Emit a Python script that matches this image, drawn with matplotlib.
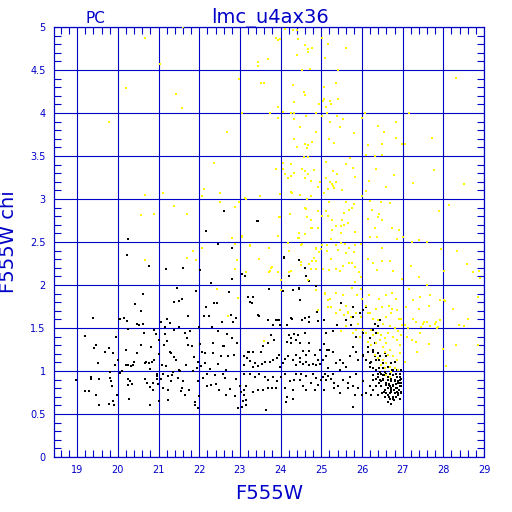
import numpy as np
import matplotlib
matplotlib.use("Agg")
import matplotlib.pyplot as plt
from matplotlib.ticker import MultipleLocator

# ─── DATA ────────────────────────────────────────────────────────────────────
TITLE = "lmc_u4ax36"
CAMERA = "PC"
X_LABEL = "F555W"
Y_LABEL = "F555W chi"
X_TICKS = [19, 20, 21, 22, 23, 24, 25, 26, 27, 28, 29]
Y_TICKS = [0, 0.5, 1, 1.5, 2, 2.5, 3, 3.5, 4, 4.5, 5]
Y_TICK_LABELS = ["0", "0.5", "1", "1.5", "2", "2.5", "3", "3.5", "4", "4.5", "5"]

# black stars: (F555W, chi)
black_pts = np.array([
    (18.97, 0.89), (19.2, 0.77), (19.3, 0.77), (19.18, 1.41), (19.38, 1.62), (19.42, 1.27),
    (19.47, 1.30), (19.5, 1.09), (19.35, 0.93), (19.35, 0.91), (19.46, 0.72), (19.54, 0.91),
    (19.54, 0.6), (19.68, 1.22), (19.78, 1.27), (19.8, 0.99), (19.8, 0.92), (19.82, 0.88),
    (19.85, 0.82), (19.79, 0.62), (19.88, 1.21), (19.88, 0.65), (19.9, 0.6), (19.92, 1.07),
    (19.95, 1.39), (19.97, 0.72), (20.0, 1.13), (20.02, 1.60), (20.06, 1.6), (20.06, 0.98),
    (20.1, 1.0), (20.15, 1.62), (20.19, 1.24), (20.21, 1.07), (20.22, 1.58), (20.24, 0.91),
    (20.24, 0.84), (20.25, 1.49), (20.26, 1.07), (20.28, 0.68), (20.29, 0.88), (20.32, 1.06),
    (20.34, 0.85), (20.37, 1.07), (20.39, 1.11), (20.42, 1.78), (20.48, 1.55), (20.47, 1.21),
    (20.53, 1.54), (20.57, 1.70), (20.58, 1.30), (20.61, 1.90), (20.62, 1.55), (20.65, 1.44),
    (20.67, 1.09), (20.67, 0.91), (20.69, 1.10), (20.72, 0.86), (20.76, 1.09), (20.77, 2.22),
    (20.79, 0.81), (20.79, 0.60), (20.8, 1.02), (20.82, 1.28), (20.85, 1.11), (20.86, 0.86),
    (20.87, 0.78), (20.9, 1.13), (20.9, 1.48), (20.93, 1.43), (20.96, 0.96), (20.96, 0.94),
    (20.96, 0.91), (20.98, 0.85), (21.0, 1.36), (21.02, 1.2), (21.02, 0.65), (21.05, 0.91),
    (21.06, 1.57), (21.09, 1.07), (21.1, 0.96), (21.11, 0.8), (21.14, 1.3), (21.15, 1.43),
    (21.15, 1.51), (21.18, 2.19), (21.18, 1.06), (21.2, 1.35), (21.2, 1.6), (21.22, 0.94),
    (21.22, 0.66), (21.24, 0.78), (21.27, 1.56), (21.28, 1.22), (21.3, 0.88), (21.31, 1.21),
    (21.33, 0.95), (21.36, 0.99), (21.37, 1.16), (21.39, 1.48), (21.39, 1.8), (21.43, 1.13),
    (21.46, 1.96), (21.48, 0.92), (21.5, 1.81), (21.51, 1.51), (21.51, 1.01), (21.52, 1.0),
    (21.55, 0.77), (21.57, 1.84), (21.58, 0.80), (21.6, 2.2), (21.61, 0.88), (21.64, 1.44),
    (21.66, 0.72), (21.68, 1.07), (21.7, 1.38), (21.72, 1.64), (21.72, 1.3), (21.76, 0.78),
    (21.77, 1.47), (21.81, 1.29), (21.84, 1.0), (21.87, 1.16), (21.89, 0.61), (21.9, 0.64),
    (21.92, 1.93), (21.94, 1.04), (21.96, 0.57), (21.97, 1.1), (21.98, 0.88), (21.99, 1.51),
    (21.99, 0.71), (22.02, 1.31), (22.03, 2.18), (22.05, 1.06), (22.07, 1.22), (22.09, 0.92),
    (22.11, 1.64), (22.13, 1.21), (22.15, 1.09), (22.17, 1.75), (22.19, 0.82), (22.2, 0.97),
    (22.23, 1.64), (22.27, 1.02), (22.28, 2.02), (22.3, 0.84), (22.32, 1.51), (22.33, 1.32),
    (22.35, 1.21), (22.37, 1.79), (22.39, 0.95), (22.41, 0.85), (22.43, 1.79), (22.45, 1.46),
    (22.47, 1.08), (22.49, 0.78), (22.53, 1.17), (22.55, 1.57), (22.58, 1.29), (22.59, 0.97),
    (22.62, 1.29), (22.64, 0.92), (22.66, 1.01), (22.67, 0.72), (22.69, 1.43), (22.71, 1.17),
    (22.73, 1.92), (22.75, 0.79), (22.77, 1.65), (22.8, 1.38), (22.81, 2.07), (22.82, 1.57),
    (22.85, 1.19), (22.88, 0.71), (22.9, 0.91), (22.91, 1.62), (22.93, 1.33), (22.96, 0.57),
    (23.0, 0.82), (23.03, 0.76), (23.05, 2.13), (23.07, 0.65), (23.1, 1.07), (23.14, 0.61),
    (23.17, 1.15), (23.21, 1.86), (23.23, 1.22), (23.24, 1.8),
    (22.61, 2.86), (22.16, 2.63), (20.24, 2.53), (22.46, 2.48), (22.8, 2.43), (20.23, 2.35),
    (23.45, 2.74), (23.43, 2.74), (24.09, 2.31), (24.46, 2.29), (24.6, 2.2), (23.12, 2.11),
    (24.21, 2.1), (24.63, 2.1), (24.86, 1.99), (24.45, 1.96), (23.72, 1.95), (23.71, 1.95),
    (24.45, 1.95), (24.7, 2.05), (24.08, 2.32), (24.61, 1.62), (24.53, 1.59), (24.27, 1.6),
    (24.16, 1.53), (23.92, 1.59), (23.47, 1.64), (25.39, 1.53), (25.29, 1.47),
    (23.32, 1.86), (23.3, 1.79), (23.45, 1.65), (23.68, 1.59), (23.81, 1.53), (23.88, 1.59),
    (23.97, 1.59), (23.99, 1.53), (24.06, 1.93), (24.16, 1.54), (24.26, 1.62), (24.3, 1.94),
    (24.48, 1.83), (24.7, 1.57), (24.7, 1.63), (24.89, 1.69), (24.92, 1.58),
    (23.77, 1.42), (23.68, 1.32), (23.83, 1.36), (23.57, 1.29), (23.53, 1.22), (23.32, 1.22),
    (23.2, 1.22), (23.11, 1.17), (23.24, 1.12), (23.36, 1.09), (23.45, 1.06), (23.32, 1.05),
    (23.55, 1.08), (23.62, 1.1), (23.73, 1.11), (23.81, 1.13), (23.91, 1.15), (23.96, 1.19),
    (23.99, 1.05), (24.06, 1.09), (24.11, 1.14), (24.17, 1.18), (24.2, 1.42), (24.26, 1.38),
    (24.33, 1.43), (24.39, 1.36), (24.43, 1.42), (24.26, 1.32), (24.15, 1.34), (24.47, 1.32),
    (24.61, 1.44), (24.71, 1.32), (24.71, 1.23), (24.84, 1.19), (24.92, 1.13), (24.96, 1.25),
    (25.06, 1.31), (25.12, 1.44), (25.14, 1.25), (24.3, 1.13), (24.39, 1.07), (24.47, 1.11),
    (24.55, 1.08), (24.63, 1.11), (24.71, 1.07), (24.8, 1.08), (24.88, 1.07), (24.96, 1.08),
    (25.04, 1.13), (24.47, 1.15), (24.39, 1.19), (24.63, 1.19), (24.55, 1.23),
    (23.11, 0.96), (23.24, 0.97), (23.36, 0.93), (23.48, 0.96), (23.61, 0.93), (23.7, 0.9),
    (23.81, 0.93), (23.91, 0.88), (24.02, 0.93), (23.69, 0.8), (23.8, 0.8), (23.89, 0.8),
    (23.57, 0.78), (23.44, 0.78), (23.32, 0.76), (23.16, 0.82), (23.11, 0.78), (23.1, 0.72),
    (23.16, 0.66), (23.06, 0.58), (23.65, 0.55), (24.1, 0.8), (24.16, 0.7), (24.3, 0.68),
    (24.3, 0.78), (24.22, 0.88), (24.34, 0.9), (24.47, 0.9), (24.55, 0.82), (24.63, 0.78),
    (24.75, 0.86), (24.84, 0.78), (24.92, 0.84), (25.0, 0.9), (25.07, 0.78), (25.08, 0.96),
    (25.16, 0.94), (24.12, 0.96), (24.39, 0.96), (24.51, 0.96), (24.63, 0.94), (24.8, 0.96),
    (24.88, 0.92), (24.13, 0.64),
    (26.35, 1.01), (26.44, 0.99), (26.52, 0.95), (26.6, 0.97), (26.68, 0.93), (26.77, 0.95),
    (26.85, 0.93), (26.93, 0.97), (26.97, 0.91), (26.64, 0.9), (26.72, 0.88), (26.81, 0.9),
    (26.89, 0.86), (26.6, 0.84), (26.68, 0.82), (26.77, 0.84), (26.85, 0.8), (26.93, 0.82),
    (26.56, 0.78), (26.72, 0.78), (26.81, 0.74), (26.64, 0.72), (26.89, 0.74), (26.68, 0.68),
    (26.78, 0.66), (26.56, 0.7), (26.48, 0.88), (26.4, 0.93), (26.27, 0.9), (26.19, 0.82),
    (26.5, 0.74), (26.93, 0.9), (26.97, 1.01), (26.86, 1.01), (26.74, 1.01), (26.52, 1.03),
    (25.78, 0.58), (26.48, 0.82), (26.52, 0.91), (26.58, 0.86), (26.67, 0.85), (26.83, 0.85),
    (26.91, 0.78), (26.97, 0.74), (26.6, 0.74), (26.69, 0.74), (26.83, 0.7), (26.77, 0.7),
    (26.64, 0.64), (26.72, 0.62), (26.93, 0.68), (26.97, 0.86), (26.44, 0.9), (26.35, 0.82),
    (26.27, 0.78), (26.23, 0.72), (26.4, 0.72), (26.93, 0.93), (26.83, 0.97), (26.7, 0.97),
    (26.56, 0.99), (26.48, 0.97),
    (26.43, 1.03), (26.39, 0.97), (26.55, 0.95), (26.63, 0.93), (26.72, 0.91), (26.8, 0.88),
    (26.88, 0.88), (26.92, 0.86), (26.51, 0.9), (26.59, 0.86), (26.67, 0.84), (26.76, 0.82),
    (26.84, 0.8), (26.63, 0.8), (26.72, 0.76), (26.8, 0.74), (26.55, 0.76), (26.66, 0.7),
    (26.76, 0.68), (26.88, 0.72), (26.43, 0.86), (26.35, 0.91), (26.27, 0.95), (26.47, 0.82),
    (26.19, 1.05), (26.23, 1.11), (26.31, 1.17), (26.39, 1.21), (26.02, 1.19), (26.15, 1.22),
    (26.27, 1.24), (26.43, 1.13), (26.51, 1.09), (26.63, 1.05), (26.76, 1.01), (26.84, 0.97),
    (26.93, 0.93), (26.96, 0.82), (26.96, 0.76), (26.71, 0.8), (26.79, 0.78), (26.87, 0.76),
    (26.27, 1.03), (26.19, 1.09), (26.11, 1.13), (26.35, 1.13), (26.44, 1.17), (26.56, 1.21),
    (26.27, 1.22), (26.15, 1.28), (26.31, 1.32), (26.19, 1.38), (26.35, 1.44), (26.27, 1.48),
    (26.4, 1.52), (26.31, 1.55), (26.44, 1.59), (26.6, 1.17), (26.72, 1.09), (26.81, 1.11),
    (26.02, 1.17), (25.9, 1.13), (25.86, 1.22), (25.78, 1.28), (25.7, 1.17), (25.61, 1.05),
    (25.53, 1.09), (25.45, 1.13), (25.37, 1.09), (25.28, 1.22), (25.2, 1.24), (25.12, 1.17),
    (25.04, 0.93), (25.12, 0.9), (25.24, 0.91), (25.32, 0.86), (25.41, 0.82), (25.53, 0.9),
    (25.65, 0.86), (25.78, 0.82), (25.9, 0.8), (26.02, 0.88), (26.11, 0.74), (26.0, 0.72),
    (25.82, 0.72), (25.65, 0.8), (25.45, 0.74), (25.32, 0.8), (25.7, 0.93), (25.86, 0.97),
    (25.45, 1.01), (25.28, 0.97), (25.16, 1.03), (25.74, 1.53), (25.61, 1.59), (25.78, 1.63),
    (25.94, 1.67), (26.02, 1.71), (26.15, 1.34), (25.86, 1.4), (26.02, 1.44), (25.78, 1.75),
    (26.11, 1.75), (25.49, 1.79), (25.06, 1.59),
])

# yellow stars: (F555W, chi)
yellow_pts = np.array([
    (21.59, 5.0), (20.66, 4.87), (21.03, 4.57), (20.21, 4.29), (21.43, 4.22), (21.57, 4.06),
    (19.77, 3.9), (22.97, 4.4), (23.06, 4.0), (22.69, 3.78), (22.36, 3.42), (20.66, 3.05),
    (21.1, 3.07), (22.11, 3.12), (22.07, 3.03), (22.52, 3.07), (22.5, 2.97), (23.15, 3.0),
    (22.97, 2.96), (22.87, 2.91), (20.56, 2.81), (20.9, 2.83), (21.37, 2.92), (21.69, 2.83),
    (22.8, 2.55), (23.05, 2.56), (22.87, 2.48), (23.26, 2.45), (21.84, 2.4), (22.08, 2.43),
    (20.66, 2.29), (21.7, 2.31), (21.92, 2.29), (22.93, 2.29), (22.88, 2.19), (23.14, 2.15),
    (22.43, 1.95), (22.96, 1.85), (22.7, 1.64),
    (23.88, 4.87), (23.93, 4.85), (23.98, 4.86), (24.11, 4.98), (24.3, 4.97), (24.41, 4.97),
    (24.42, 4.86), (24.59, 4.79), (24.68, 4.75), (24.78, 4.76), (24.68, 4.71), (24.41, 4.67),
    (23.68, 4.63), (23.45, 4.59), (23.45, 4.55), (25.02, 4.87), (25.16, 4.8), (25.08, 4.64),
    (25.6, 4.76), (24.52, 4.5), (24.72, 4.51), (25.42, 4.5), (23.53, 4.35), (23.59, 4.35),
    (25.35, 4.35), (28.32, 4.41), (24.31, 4.33), (24.58, 4.24), (24.61, 4.21), (25.07, 4.3),
    (24.34, 4.13), (25.07, 4.16), (25.05, 4.14), (24.94, 4.1), (25.21, 4.14), (25.4, 4.16),
    (25.12, 4.07), (25.23, 4.1), (23.93, 4.07), (24.06, 4.01), (24.26, 4.0), (24.32, 4.0),
    (23.75, 4.0), (23.93, 3.94), (24.32, 3.93), (24.63, 3.97), (24.87, 4.0), (25.02, 3.96),
    (25.14, 4.0), (25.39, 3.97), (25.53, 3.93), (26.0, 3.94), (26.07, 4.0), (27.16, 4.0),
    (24.48, 3.84), (24.88, 3.78), (25.22, 3.9), (25.47, 3.84), (25.8, 3.77), (26.4, 3.85),
    (26.55, 3.78), (26.83, 3.89), (26.83, 3.71), (27.73, 3.71), (24.32, 3.7), (24.4, 3.61),
    (24.61, 3.64), (24.68, 3.63), (24.66, 3.59), (24.78, 3.66), (25.2, 3.7), (25.31, 3.65),
    (26.14, 3.63), (26.5, 3.64), (26.98, 3.64), (27.07, 3.64), (24.57, 3.49), (24.67, 3.49),
    (25.71, 3.48), (26.11, 3.51), (26.31, 3.5), (26.5, 3.51), (24.06, 3.42), (24.26, 3.41),
    (24.52, 3.35), (24.61, 3.32), (24.82, 3.34), (25.11, 3.43), (25.6, 3.41), (25.3, 3.33),
    (25.38, 3.29), (25.77, 3.36), (26.34, 3.35), (26.78, 3.28), (27.77, 3.34), (23.88, 3.35),
    (24.06, 3.35), (24.1, 3.29), (24.18, 3.24), (24.25, 3.27), (24.34, 3.3), (24.6, 3.24),
    (24.68, 3.29), (24.75, 3.21), (24.98, 3.2), (25.11, 3.24), (25.21, 3.2), (25.27, 3.18),
    (25.35, 3.2), (25.84, 3.26), (26.18, 3.21), (26.6, 3.14), (27.26, 3.19), (28.5, 3.17),
    (24.93, 3.14), (25.16, 3.12), (25.31, 3.13), (25.3, 3.15), (25.5, 3.1), (24.25, 3.08),
    (24.27, 3.07), (24.48, 3.05), (24.75, 3.03), (25.07, 3.07), (26.09, 3.09), (26.01, 3.03),
    (23.5, 3.03), (23.99, 3.06), (24.66, 3.0), (25.2, 2.97), (25.6, 2.97), (26.19, 2.98),
    (26.46, 2.97), (26.68, 2.95), (28.14, 2.93), (24.61, 2.9), (24.91, 2.86), (25.11, 2.86),
    (25.57, 2.84), (25.8, 2.94), (25.75, 2.9), (25.68, 2.87), (26.24, 2.87), (26.43, 2.83),
    (27.9, 2.86), (24.24, 2.82), (23.98, 2.79), (24.64, 2.79), (24.75, 2.76), (25.02, 2.8),
    (25.17, 2.8), (25.27, 2.76), (25.52, 2.76), (25.65, 2.72), (26.14, 2.77), (26.39, 2.79),
    (26.5, 2.76), (24.78, 2.66), (24.91, 2.66), (25.27, 2.64), (25.37, 2.69), (25.48, 2.69),
    (25.57, 2.7), (25.84, 2.62), (26.32, 2.66), (26.75, 2.66), (26.91, 2.64), (24.61, 2.59),
    (23.94, 2.57), (24.45, 2.55), (25.25, 2.54), (25.48, 2.6), (26.21, 2.56), (26.37, 2.56),
    (26.87, 2.53), (27.01, 2.56), (24.19, 2.49), (24.52, 2.48), (24.86, 2.42), (25.02, 2.46),
    (25.15, 2.46), (25.35, 2.46), (25.48, 2.49), (25.58, 2.48), (25.68, 2.43), (25.83, 2.47),
    (25.98, 2.48), (26.5, 2.43), (27.22, 2.5), (27.4, 2.52), (27.61, 2.5), (27.94, 2.42),
    (28.34, 2.39), (23.71, 2.43), (24.2, 2.39), (24.94, 2.38), (25.15, 2.4), (25.4, 2.41),
    (25.8, 2.38), (25.61, 2.37),
    (23.12, 3.01), (23.49, 3.03), (23.97, 2.79), (24.23, 2.82), (23.93, 2.57), (23.04, 2.57),
    (23.24, 2.46), (23.72, 2.43), (23.47, 2.3), (23.77, 2.2), (23.15, 2.15), (23.72, 2.15),
    (24.2, 2.39), (24.5, 2.47), (24.43, 2.55), (24.46, 2.6), (24.63, 2.88), (24.75, 2.66),
    (24.2, 2.15), (24.5, 2.23), (24.71, 2.25), (24.83, 2.31), (24.87, 2.43), (24.99, 2.42),
    (24.86, 2.19), (24.67, 2.06), (24.01, 2.06),
    (23.75, 2.16), (23.94, 2.15), (23.78, 2.21), (24.01, 2.06), (24.25, 2.16), (24.74, 2.19),
    (24.86, 2.28), (24.78, 2.28), (24.49, 2.27), (24.02, 1.94), (24.86, 1.94), (24.93, 1.71),
    (23.6, 1.35), (25.04, 2.19), (25.19, 2.17), (25.25, 2.3), (25.35, 2.19), (25.47, 2.16),
    (25.53, 2.22), (25.68, 2.26), (25.76, 2.26), (25.84, 2.21), (25.93, 2.15), (25.98, 2.09),
    (26.16, 2.3), (26.26, 2.26), (26.38, 2.17), (26.5, 2.28), (26.7, 2.28), (26.76, 2.16),
    (26.99, 2.07), (27.2, 2.22), (27.4, 2.09), (27.61, 2.0), (28.02, 2.16), (28.57, 2.24),
    (28.73, 2.15), (28.87, 2.16), (28.89, 2.08), (25.09, 1.91), (25.17, 1.74), (25.22, 1.84),
    (25.35, 1.91), (25.53, 1.88), (25.6, 1.76), (25.65, 1.68), (25.76, 1.97), (25.84, 2.03),
    (25.89, 1.88), (25.97, 1.95), (26.01, 1.84), (26.09, 1.76), (26.17, 1.88), (26.21, 1.68),
    (26.34, 1.72), (26.42, 1.84), (26.5, 1.74), (26.58, 1.88), (26.66, 1.76), (26.75, 1.91),
    (26.83, 1.84), (26.75, 1.72), (26.91, 1.6), (26.99, 1.53), (27.11, 1.39), (27.16, 1.95),
    (27.25, 1.6), (27.34, 1.57), (27.4, 1.72), (27.36, 1.22), (27.45, 1.51), (27.53, 1.57),
    (27.65, 1.31), (27.66, 1.76), (27.83, 1.57), (27.87, 1.51), (27.98, 1.26), (28.02, 1.82),
    (28.23, 1.72), (28.3, 1.3), (28.39, 1.53), (28.52, 1.52), (28.6, 1.6), (28.86, 1.3),
    (28.85, 1.86), (28.06, 1.06),
    (26.02, 1.48), (26.11, 1.44), (26.23, 1.48), (26.27, 1.42), (26.4, 1.44), (26.48, 1.42),
    (26.56, 1.38), (26.64, 1.44), (26.77, 1.4), (26.85, 1.36), (26.93, 1.3), (26.6, 1.32),
    (26.52, 1.28), (26.68, 1.24), (26.56, 1.22), (26.64, 1.19), (26.77, 1.17), (26.85, 1.13),
    (26.52, 1.13), (26.6, 1.09), (26.68, 1.05), (26.81, 1.03), (26.89, 1.01), (26.56, 1.03),
    (26.72, 0.99), (26.6, 0.95), (26.68, 0.93), (26.48, 1.07), (26.4, 1.15), (26.31, 1.19),
    (26.23, 1.3), (26.15, 1.34), (26.35, 1.32), (26.44, 1.36), (25.94, 1.4), (25.86, 1.48),
    (25.78, 1.44), (25.9, 1.55), (25.98, 1.63), (26.15, 1.67), (26.27, 1.61), (26.4, 1.59),
    (26.52, 1.55), (26.6, 1.63), (26.72, 1.67), (26.85, 1.71), (26.97, 1.61), (27.05, 1.53),
    (27.14, 1.5), (27.22, 1.36), (27.34, 1.34), (27.42, 1.44), (27.5, 1.55), (27.59, 1.57),
    (27.67, 1.52), (27.79, 1.55), (27.92, 1.59), (27.84, 1.5), (27.05, 1.11), (26.93, 1.21),
    (26.97, 1.42), (25.86, 1.67), (25.74, 1.63), (25.65, 1.69), (25.57, 1.65), (25.45, 1.71),
    (25.37, 1.67), (25.24, 1.75), (25.16, 1.83), (25.08, 1.9), (25.61, 1.52), (25.49, 1.46),
    (26.68, 1.52), (26.81, 1.5), (26.89, 1.46), (27.09, 1.75), (27.26, 1.83), (27.42, 1.86),
    (27.67, 1.88), (27.92, 1.83), (28.04, 1.81), (27.16, 1.95),
])

BLUE = "#0000C8"
XLIM = (18.43, 29.0)
YLIM = (0.0, 5.0)


def plot_chi(black, yellow):
    fig = plt.figure(figsize=(5.12, 5.12), dpi=100)
    ax = fig.add_axes([54 / 512, 55 / 512, 430 / 512, 430 / 512])

    ax.scatter(black[:, 0], black[:, 1], marker="s", s=3.4, color="black",
               linewidths=0, zorder=3)
    ax.scatter(yellow[:, 0], yellow[:, 1], marker="s", s=3.4, color="#FFFF00",
               linewidths=0, zorder=4)

    ax.set_xlim(*XLIM)
    ax.set_ylim(*YLIM)
    ax.set_xticks(X_TICKS)
    ax.set_xticklabels([str(t) for t in X_TICKS])
    ax.set_yticks(Y_TICKS)
    ax.set_yticklabels(Y_TICK_LABELS)
    ax.xaxis.set_minor_locator(MultipleLocator(0.2))
    ax.yaxis.set_minor_locator(MultipleLocator(0.1))
    ax.tick_params(which="both", direction="in", top=True, right=True, color=BLUE,
                   labelcolor=BLUE, labelsize=7, width=0.8)
    ax.tick_params(which="minor", length=5)
    ax.tick_params(which="major", length=0, pad=6)
    ax.grid(True, which="major", color=BLUE, linewidth=0.8, zorder=1)
    ax.set_axisbelow(True)
    for sp in ax.spines.values():
        sp.set_color(BLUE)
        sp.set_linewidth(0.9)

    ax.set_xlabel(X_LABEL, color=BLUE, fontsize=14, labelpad=6)
    ax.set_ylabel(Y_LABEL, color=BLUE, fontsize=14, labelpad=9)
    fig.text(0.527, 0.955, TITLE, color=BLUE, fontsize=14, ha="center", va="baseline")
    fig.text(0.186, 0.955, CAMERA, color=BLUE, fontsize=11, ha="center", va="baseline")

    fig.savefig("out.png", dpi=100)


if __name__ == "__main__":
    plot_chi(black_pts, yellow_pts)
